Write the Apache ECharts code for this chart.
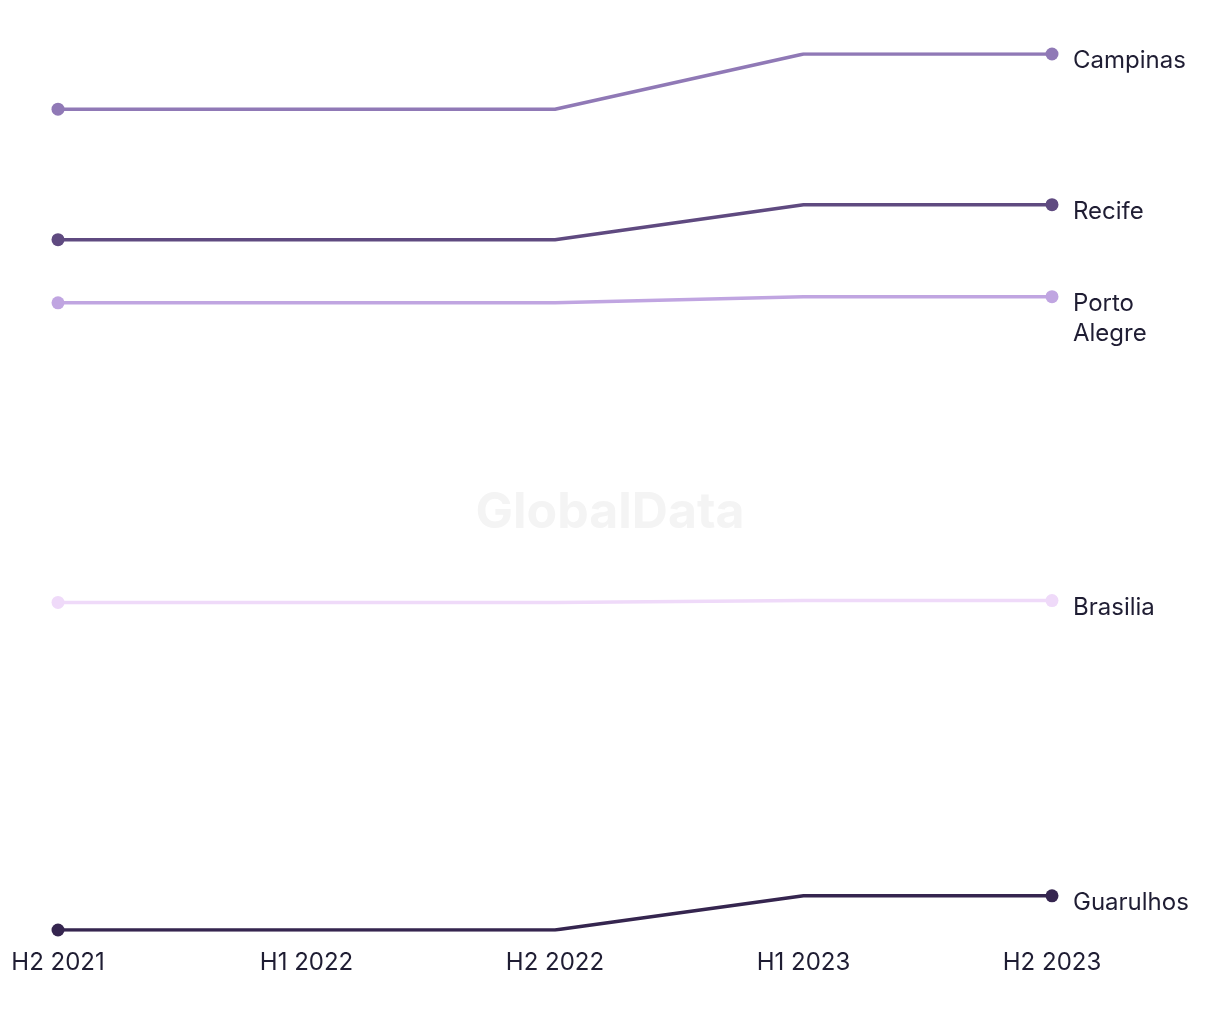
<!DOCTYPE html>
<html>
<head>
<meta charset="utf-8">
<script src="https://cdn.jsdelivr.net/npm/echarts@6/dist/echarts.min.js"></script>
<style>html,body{margin:0;padding:0;background:#fff}#c{width:1220px;height:1020px}</style>
</head>
<body>
<div id="c"></div>
<script>
const categories = ['H2 2021', 'H1 2022', 'H2 2022', 'H1 2023', 'H2 2023'];
const campinas = [93.7, 93.7, 93.7, 100, 100];
const recife = [78.8, 78.8, 78.8, 82.8, 82.8];
const portoAlegre = [71.6, 71.6, 71.6, 72.3, 72.3];
const brasilia = [37.4, 37.4, 37.4, 37.6, 37.6];
const guarulhos = [0, 0, 0, 3.9, 3.9];

const seriesDefs = [
  { name: 'Campinas', label: 'Campinas', data: campinas, color: '#9079b6' },
  { name: 'Recife', label: 'Recife', data: recife, color: '#5f4a80' },
  { name: 'Porto Alegre', label: 'Porto\nAlegre', data: portoAlegre, color: '#c0a5e1' },
  { name: 'Brasilia', label: 'Brasilia', data: brasilia, color: '#efdaf9' },
  { name: 'Guarulhos', label: 'Guarulhos', data: guarulhos, color: '#35254f' }
];

const chart = echarts.init(document.getElementById('c'), null, { renderer: 'canvas' });
const FONT = 'Inter, "Noto Sans", sans-serif';
chart.setOption({
  animation: false,
  backgroundColor: '#ffffff',
  grid: { left: 58, right: 168, top: 54, bottom: 90, containLabel: false },
  graphic: [{
    type: 'text', left: 'center', top: 488, z: 0,
    style: { text: 'GlobalData', font: 'bold 50px ' + FONT, fill: '#f4f4f4' }
  }],
  xAxis: {
    type: 'category', data: categories, boundaryGap: false,
    axisLine: { show: false }, axisTick: { show: false }, splitLine: { show: false },
    axisLabel: { color: '#1f1d33', fontSize: 24, fontFamily: FONT, margin: 21 }
  },
  yAxis: {
    type: 'value', min: 0, max: 100, show: false, splitLine: { show: false }
  },
  series: seriesDefs.map(s => ({
    type: 'line', name: s.name, z: 3,
    data: s.data.map((v, i) => ({ value: v, symbolSize: (i === 0 || i === s.data.length - 1) ? 13 : 0 })),
    symbol: 'circle', showSymbol: true,
    lineStyle: { color: s.color, width: 3.5 },
    itemStyle: { color: s.color },
    emphasis: { disabled: true },
    endLabel: {
      show: true, formatter: () => s.label, color: '#1f1d33', fontSize: 24, fontFamily: FONT,
      lineHeight: 30, verticalAlign: 'top', align: 'left', offset: [13, -8]
    }
  }))
});
</script>
</body>
</html>
